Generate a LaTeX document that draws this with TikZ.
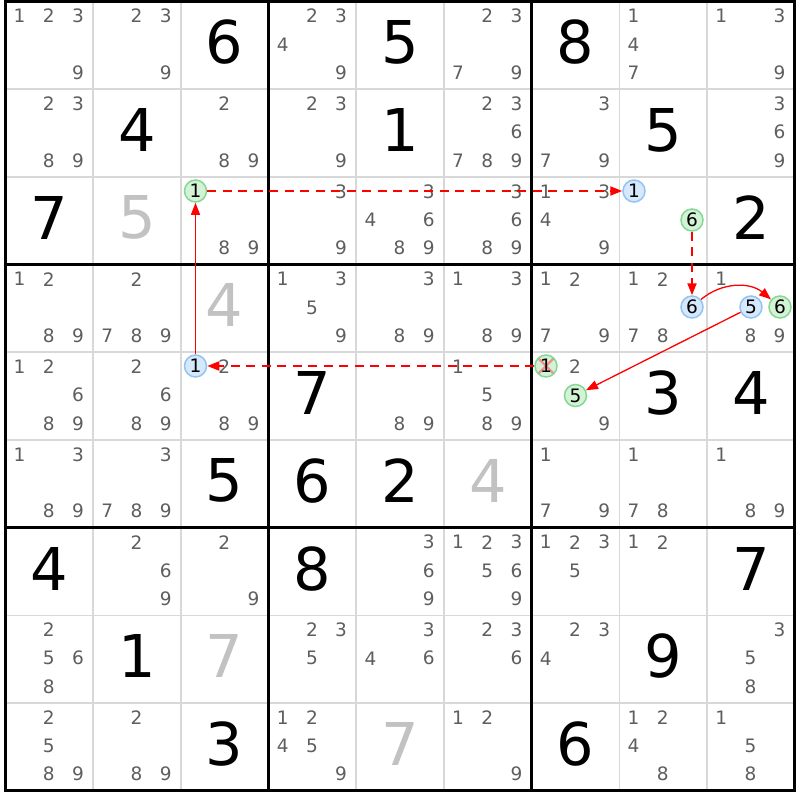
\documentclass[tikz,border=0pt]{standalone}
\usepackage{fontspec}
\setmainfont{DejaVu Sans}
\usetikzlibrary{arrows.meta}
\definecolor{candgray}{HTML}{5E5E5E}
\definecolor{solvedgray}{HTML}{C2C2C2}
\definecolor{thingray}{HTML}{D8D8D8}
\definecolor{greenfill}{HTML}{D4F2D6}
\definecolor{greenline}{HTML}{84D894}
\definecolor{bluefill}{HTML}{D6E9FC}
\definecolor{blueline}{HTML}{92C4F2}
\definecolor{linkred}{HTML}{FF0000}
\definecolor{xred}{HTML}{F29090}
\begin{document}
\begin{tikzpicture}[x=1pt,y=-1pt,
  cand/.style={text=candgray,font=\fontsize{18.5}{18.5}\selectfont,inner sep=0pt},
  given/.style={text=black,font=\fontsize{59}{59}\selectfont,inner sep=0pt},
  solved/.style={given,text=solvedgray},
  circbase/.style={circle,line width=1.5pt,minimum size=22pt,inner sep=0pt,font=\fontsize{18.5}{18.5}\selectfont,text=black},
  gcirc/.style={circbase,draw=greenline,fill=greenfill},
  bcirc/.style={circbase,draw=blueline,fill=bluefill},
  xcirc/.style={gcirc,path picture={
      \draw[xred,line width=2.2pt] (path picture bounding box.north west) -- (path picture bounding box.south east);
      \draw[xred,line width=2.2pt] (path picture bounding box.north east) -- (path picture bounding box.south west);}},
  thinline/.style={draw=thingray,line width=1.7pt},
  thickline/.style={draw=black,line width=3.2pt,line cap=rect},
  strong/.style={draw=linkred,line width=1.3pt,-{Triangle[length=12pt,width=9pt]}},
  weak/.style={strong,line width=2pt,dash pattern=on 9pt off 6.5pt},
]
\fill[white] (0,0) rectangle (800,800);
\useasboundingbox (0,0) rectangle (800,800);
% thin grid lines
\foreach \i in {1,2,4,5,7,8} {
  \draw[thinline] ({5.5+\i*87.7},1.5) -- ({5.5+\i*87.7},790.8);
  \draw[thinline] (5.5,{1.5+\i*87.7}) -- (794.8,{1.5+\i*87.7});
}
% thick grid lines
\foreach \i in {0,3,6,9} {
  \draw[thickline] ({5.5+\i*87.7},1.5) -- ({5.5+\i*87.7},790.8);
  \draw[thickline] (5.5,{1.5+\i*87.7}) -- (794.8,{1.5+\i*87.7});
}
% given digits
\foreach \r/\c/\v in {1/3/6,1/5/5,1/7/8,2/2/4,2/5/1,2/8/5,3/1/7,3/9/2,5/4/7,5/8/3,5/9/4,
  6/3/5,6/4/6,6/5/2,7/1/4,7/4/8,7/9/7,8/2/1,8/8/9,9/3/3,9/7/6} {
  \node[given] (G\r\c) at ({5.5+(\c-0.5)*87.7},{1.5+(\r-0.5)*87.7-3}) {\v};
}
% solved digits
\foreach \r/\c/\v in {3/2/5,4/3/4,6/6/4,8/3/7,9/5/7} {
  \node[solved] (S\r\c) at ({5.5+(\c-0.5)*87.7},{1.5+(\r-0.5)*87.7-3}) {\v};
}
% candidates
\foreach \r/\c/\L in {1/1/{1,2,3,9},1/2/{2,3,9},1/4/{2,3,4,9},1/6/{2,3,7,9},1/8/{1,4,7},1/9/{1,3,9},
  2/1/{2,3,8,9},2/3/{2,8,9},2/4/{2,3,9},2/6/{2,3,6,7,8,9},2/7/{3,7,9},2/9/{3,6,9},
  3/3/{8,9},3/4/{3,9},3/5/{3,4,6,8,9},3/6/{3,6,8,9},3/7/{1,3,4,9},
  4/1/{1,2,8,9},4/2/{2,7,8,9},4/4/{1,3,5,9},4/5/{3,8,9},4/6/{1,3,8,9},4/7/{1,2,7,9},4/8/{1,2,7,8},4/9/{1,8,9},
  5/1/{1,2,6,8,9},5/2/{2,6,8,9},5/3/{2,8,9},5/5/{8,9},5/6/{1,5,8,9},5/7/{2,9},
  6/1/{1,3,8,9},6/2/{3,7,8,9},6/7/{1,7,9},6/8/{1,7,8},6/9/{1,8,9},
  7/2/{2,6,9},7/3/{2,9},7/5/{3,6,9},7/6/{1,2,3,5,6,9},7/7/{1,2,3,5},7/8/{1,2},
  8/1/{2,5,6,8},8/4/{2,3,5},8/5/{3,4,6},8/6/{2,3,6},8/7/{2,3,4},8/9/{3,5,8},
  9/1/{2,5,8,9},9/2/{2,8,9},9/4/{1,2,4,5,9},9/6/{1,2,9},9/8/{1,2,4,8},9/9/{1,5,8}} {
  \foreach \d in \L {
    \node[cand] (P\r\c\d) at ({5.5+(\c-1)*87.7+(mod(\d-1,3)+0.5)*29.2-0.5},{1.5+(\r-0.5)*87.7+(floor((\d-1)/3)-1)*28.3-1}) {\d};
  }
}
% highlighted candidates
\node[gcirc] (A) at (195.5,191) {1};
\node[bcirc] (B) at (634,191) {1};
\node[gcirc] (C) at (692,220) {6};
\node[bcirc] (D) at (692,307) {6};
\node[bcirc] (E) at (751,307) {5};
\node[gcirc] (F) at (780,307) {6};
\node[bcirc] (G) at (195.5,366) {1};
\node[xcirc] (H) at (546,366) {1};
\node[gcirc] (I) at (575.5,395.5) {5};
% links
\draw[strong] (G) -- (A);
\draw[weak] (A) -- (B);
\draw[weak] (C) -- (D);
\draw[strong] (D) to[bend left=40] (F);
\draw[strong] (E) -- (I);
\draw[weak] (H) -- (G);
\end{tikzpicture}
\end{document}
